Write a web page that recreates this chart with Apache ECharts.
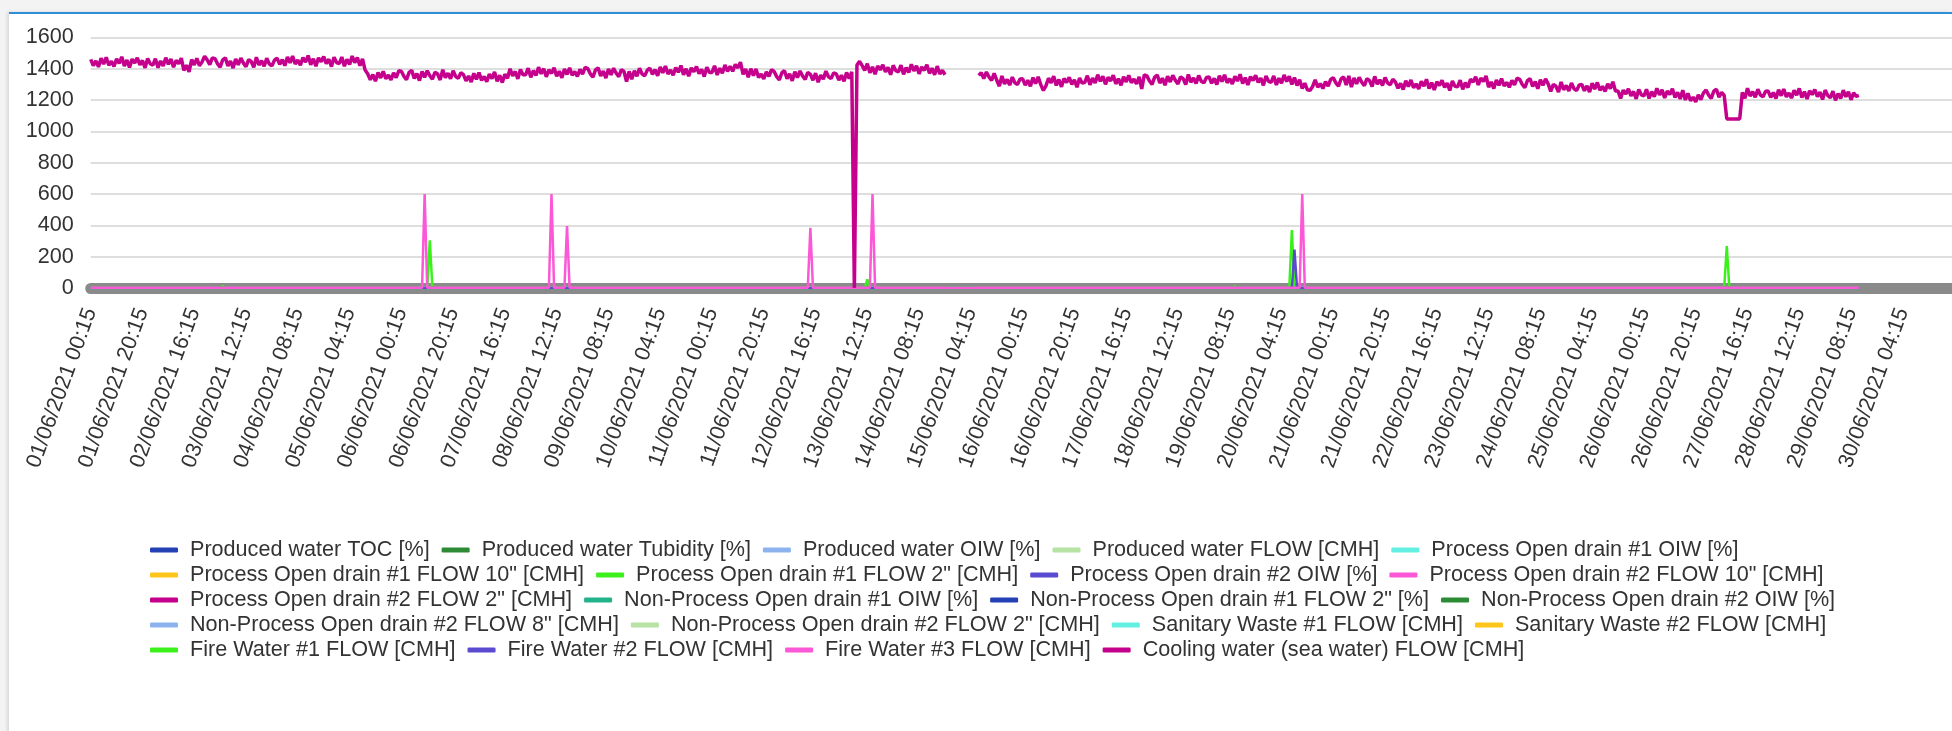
<!DOCTYPE html>
<html>
<head>
<meta charset="utf-8">
<script src="https://cdn.jsdelivr.net/npm/echarts@6/dist/echarts.min.js"></script>
<style>
  html, body { margin: 0; padding: 0; background: #f3f3f3; }
  #panel { position: absolute; left: 9px; top: 12px; width: 1943px; height: 719px; background: #fff;
           border-top: 2px solid #2f8fd6; box-shadow: -2px 0 3px #d8d8d8; }
  #chart { position: absolute; left: 0; top: 0; width: 1952px; height: 731px; }
</style>
</head>
<body>
<div id="panel"></div>
<div id="chart"></div>
<script>
// hourly categories, 01/06/2021 00:15 .. 30/06/2021 23:15
const timeLabels = [];
for (let h = 0; h < 720; h++) {
  const d = String(1 + Math.floor(h / 24)).padStart(2, '0');
  const hh = String(h % 24).padStart(2, '0');
  timeLabels.push(d + '/06/2021 ' + hh + ':15');
}

const seriesNames = [
  'Produced water TOC [%]', 'Produced water Tubidity [%]', 'Produced water OIW [%]',
  'Produced water FLOW [CMH]', 'Process Open drain #1 OIW [%]',
  'Process Open drain #1 FLOW 10" [CMH]', 'Process Open drain #1 FLOW 2" [CMH]',
  'Process Open drain #2 OIW [%]', 'Process Open drain #2 FLOW 10" [CMH]',
  'Process Open drain #2 FLOW 2" [CMH]', 'Non-Process Open drain #1 OIW [%]',
  'Non-Process Open drain #1 FLOW 2" [%]', 'Non-Process Open drain #2 OIW [%]',
  'Non-Process Open drain #2 FLOW 8" [CMH]', 'Non-Process Open drain #2 FLOW 2" [CMH]',
  'Sanitary Waste #1 FLOW [CMH]', 'Sanitary Waste #2 FLOW [CMH]',
  'Fire Water #1 FLOW [CMH]', 'Fire Water #2 FLOW [CMH]', 'Fire Water #3 FLOW [CMH]',
  'Cooling water (sea water) FLOW [CMH]'
];

const seriesColors = [
  '#2341b5', '#2e8b35', '#8db3ee', '#b6e3a4', '#63efe1', '#fec61b', '#3cf01c',
  '#5a4bd1', '#fc57d6', '#c4008c', '#22b38a', '#2341b5', '#2e8b35', '#8db3ee',
  '#b6e3a4', '#63efe1', '#fec61b', '#3cf01c', '#5a4bd1', '#fc57d6', '#c4008c'
];

// flat near-zero signals: [hourIndex, value]
const flatZero = [[0, 0], [683, 0]];

const fireWater1 = [[0, 0], [50, 0], [51, 12], [52, 0], [130, 0], [131, 305], [132, 0],
  [299, 0], [300, 55], [301, 0], [441, 0], [442, 10], [443, 0], [463, 0], [464, 370], [465, 0],
  [631, 0], [632, 268], [633, 0], [683, 0]];

const fireWater2 = [[0, 0], [464, 0], [465, 245], [466, 0], [683, 0]];

const fireWater3 = [[0, 2], [128, 2], [129, 600], [130, 2], [177, 2], [178, 600], [179, 2],
  [183, 2], [184, 395], [185, 2], [277, 2], [278, 385], [279, 2], [301, 2], [302, 600], [303, 2],
  [330, 2], [331, 0], [342, 0], [343, 2], [467, 2], [468, 600], [469, 2], [683, 2]];

// cooling water flow, one row per day (hourly)
const coolingFlow = [
  1460,1420,1451,1412,1468,1430,1473,1423,1448,1415,1464,1434,1477,1418,1456,1409,1462,1437,1470,1425,1453,1406,1466,1432,
  1423,1465,1407,1450,1418,1471,1429,1462,1410,1454,1432,1468,1390,1423,1381,1459,1425,1467,1420,1443,1480,1457,1427,1470,
  1465,1432,1411,1457,1470,1419,1450,1405,1463,1426,1468,1436,1414,1459,1447,1409,1474,1424,1452,1416,1467,1431,1420,1455,
  1468,1428,1459,1420,1476,1438,1481,1431,1456,1423,1472,1442,1485,1426,1464,1417,1470,1445,1478,1433,1461,1414,1474,1440,
  1433,1475,1417,1460,1428,1481,1439,1472,1420,1464,1392,1368,1330,1363,1321,1376,1342,1384,1337,1360,1329,1374,1344,1387,
  1385,1352,1331,1377,1390,1339,1370,1325,1383,1346,1388,1356,1334,1379,1367,1329,1394,1344,1372,1336,1387,1351,1340,1375,
  1363,1323,1354,1315,1371,1333,1376,1326,1351,1318,1367,1337,1380,1321,1359,1312,1365,1340,1400,1355,1383,1336,1396,1362,
  1362,1404,1346,1389,1357,1410,1368,1401,1349,1393,1371,1407,1352,1385,1343,1398,1364,1406,1359,1382,1351,1396,1366,1409,
  1401,1368,1347,1393,1406,1355,1386,1341,1399,1362,1404,1372,1350,1395,1383,1319,1384,1334,1388,1352,1403,1367,1356,1391,
  1404,1364,1395,1356,1412,1374,1417,1367,1392,1359,1408,1378,1421,1362,1400,1353,1406,1381,1414,1369,1397,1350,1410,1376,
  1377,1419,1361,1404,1372,1425,1383,1416,1384,1428,1406,1442,1365,1398,1346,1401,1357,1399,1344,1367,1336,1381,1351,1394,
  1383,1350,1329,1375,1388,1337,1368,1323,1381,1344,1386,1354,1332,1377,1365,1327,1372,1314,1360,1334,1385,1349,1338,1373,
  1368,1328,1359,1320,1376,1338,1381,0,1425,1448,1420,1390,1433,1374,1412,1365,1418,1393,1426,1381,1409,1362,1422,1388,
  1381,1423,1365,1408,1376,1429,1387,1420,1368,1412,1390,1426,1371,1404,1362,1417,1367,1390,1362,null,null,null,null,null,
  null,null,null,null,null,null,null,1358,1375,1338,1380,1348,1326,1371,1327,1289,1354,1304,1332,1296,1347,1311,1300,1335,
  1336,1296,1327,1288,1344,1306,1349,1299,1262,1291,1340,1310,1353,1294,1332,1285,1338,1313,1346,1301,1329,1282,1342,1308,
  1314,1356,1298,1341,1309,1362,1320,1353,1301,1345,1323,1359,1304,1337,1295,1350,1316,1358,1311,1334,1303,1348,1272,1361,
  1355,1322,1301,1347,1360,1309,1340,1295,1353,1316,1358,1326,1304,1349,1337,1299,1364,1314,1342,1306,1357,1321,1310,1345,
  1348,1308,1339,1300,1356,1318,1361,1311,1336,1303,1352,1322,1365,1306,1344,1297,1350,1325,1358,1313,1341,1294,1354,1320,
  1313,1355,1297,1340,1308,1361,1319,1352,1300,1344,1294,1330,1275,1308,1266,1262,1287,1329,1282,1305,1274,1319,1289,1332,
  1343,1310,1289,1335,1348,1297,1355,1283,1341,1304,1346,1314,1292,1337,1325,1287,1352,1302,1330,1294,1345,1309,1298,1333,
  1316,1276,1307,1268,1324,1286,1329,1279,1304,1271,1320,1290,1333,1274,1312,1265,1318,1293,1326,1281,1309,1262,1322,1288,
  1285,1327,1269,1312,1280,1333,1316,1349,1297,1341,1319,1355,1283,1316,1274,1329,1295,1337,1290,1313,1282,1327,1297,1340,
  1333,1300,1279,1325,1338,1287,1318,1273,1331,1294,1336,1304,1256,1301,1289,1251,1316,1266,1294,1258,1309,1273,1262,1297,
  1300,1260,1291,1252,1308,1270,1313,1263,1288,1255,1304,1274,1317,1258,1258,1211,1264,1239,1272,1227,1255,1208,1268,1234,
  1227,1269,1211,1254,1222,1275,1233,1266,1214,1258,1236,1272,1217,1250,1208,1263,1201,1243,1196,1219,1188,1233,1203,1246,
  1265,1232,1211,1257,1270,1219,1250,1230,1080,1080,1080,1080,1080,1080,1249,1211,1276,1226,1254,1218,1269,1233,1222,1257,
  1258,1218,1249,1210,1266,1228,1271,1221,1246,1213,1262,1232,1275,1216,1254,1207,1260,1235,1268,1223,1251,1204,1264,1230,
  1215,1257,1199,1242,1210,1263,1221,1254,1202,1246,1224,1230
];

const yTicks = { min: 0, max: 1600, interval: 200 };

const legendRows = [
  seriesNames.slice(0, 5), seriesNames.slice(5, 9), seriesNames.slice(9, 13),
  seriesNames.slice(13, 17), seriesNames.slice(17, 21)
];

const font = "'Liberation Sans', Arial, sans-serif";

const seriesData = seriesNames.map(function (name, i) {
  if (i === 17) return fireWater1;
  if (i === 18) return fireWater2;
  if (i === 19) return fireWater3;
  if (i === 20) return coolingFlow;
  return flatZero;
});

const chart = echarts.init(document.getElementById('chart'));
chart.setOption({
  animation: false,
  color: seriesColors,
  textStyle: { fontFamily: font },
  legend: legendRows.map(function (row, r) {
    return {
      data: row,
      left: 145,
      top: 534 + r * 25,
      orient: 'horizontal',
      icon: 'roundRect',
      itemWidth: 28,
      itemHeight: 5,
      itemGap: 12,
      selectedMode: false,
      textStyle: { fontSize: 21.6, color: '#333', fontFamily: font, lineHeight: 22, padding: [0, 0, 0, 7] }
    };
  }),
  grid: { left: 90.7, right: 0, top: 37.5, height: 250.5, outerBoundsMode: 'none' },
  xAxis: {
    type: 'category',
    data: timeLabels,
    boundaryGap: false,
    offset: 4,
    axisLine: { lineStyle: { color: '#8a8a8a', width: 11 } },
    axisTick: { show: false },
    axisLabel: {
      interval: 19, rotate: 70, fontSize: 21.6, color: '#333', margin: 17, fontFamily: font,
      padding: [0, 0, 8, 0]
    },
    splitLine: { show: false }
  },
  yAxis: {
    type: 'value',
    min: yTicks.min,
    max: yTicks.max,
    interval: yTicks.interval,
    axisLine: { show: false },
    axisTick: { show: false },
    axisLabel: {
      fontSize: 21.6, color: '#333', margin: 17, fontFamily: font,
      formatter: function (v) { return String(v); }
    },
    splitLine: { lineStyle: { color: '#dedede', width: 2 } }
  },
  series: seriesNames.map(function (name, i) {
    return {
      name: name,
      type: 'line',
      data: seriesData[i],
      showSymbol: false,
      symbol: 'none',
      connectNulls: false,
      lineStyle: { width: i === 20 ? 3.5 : 2.5, color: seriesColors[i] },
      itemStyle: { color: seriesColors[i] }
    };
  })
});
</script>
</body>
</html>
